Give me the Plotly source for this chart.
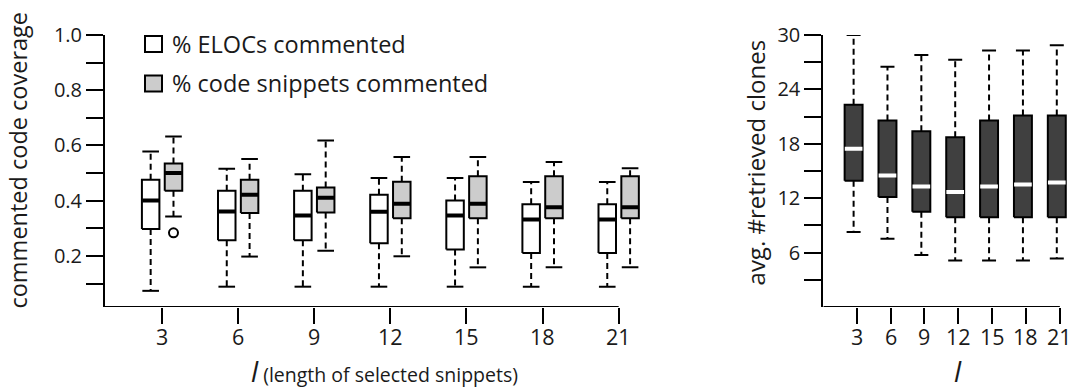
import plotly.graph_objects as go

# ---------------- data ----------------
categories = ['3', '6', '9', '12', '15', '18', '21']

# % ELOCs commented (white boxes)
eloc_lower = [0.074, 0.089, 0.089, 0.089, 0.089, 0.089, 0.089]
eloc_q1 = [0.298, 0.257, 0.257, 0.246, 0.224, 0.211, 0.211]
eloc_median = [0.401, 0.361, 0.347, 0.360, 0.347, 0.332, 0.332]
eloc_q3 = [0.476, 0.436, 0.436, 0.422, 0.401, 0.387, 0.387]
eloc_upper = [0.578, 0.516, 0.496, 0.482, 0.482, 0.468, 0.468]

# % code snippets commented (grey boxes)
snip_lower = [0.343, 0.198, 0.219, 0.199, 0.159, 0.159, 0.159]
snip_q1 = [0.436, 0.356, 0.357, 0.337, 0.337, 0.337, 0.337]
snip_median = [0.500, 0.422, 0.411, 0.389, 0.389, 0.376, 0.376]
snip_q3 = [0.535, 0.476, 0.448, 0.469, 0.489, 0.489, 0.489]
snip_upper = [0.632, 0.551, 0.618, 0.558, 0.558, 0.540, 0.518]
snip_outliers = [[0.284], [], [], [], [], [], []]

# avg. #retrieved clones (dark boxes)
clone_lower = [8.27, 7.53, 5.73, 5.13, 5.13, 5.13, 5.34]
clone_q1 = [13.93, 12.13, 10.5, 9.9, 9.9, 9.9, 9.9]
clone_median = [17.46, 14.49, 13.29, 12.69, 13.29, 13.5, 13.72]
clone_q3 = [22.3, 20.57, 19.37, 18.73, 20.57, 21.13, 21.13]
clone_upper = [30.0, 26.5, 27.8, 27.25, 28.27, 28.27, 28.87]

left_ticks = [0.2, 0.4, 0.6, 0.8, 1.0]
left_minor = [0.1, 0.3, 0.5, 0.7, 0.9]
right_ticks = [6, 12, 18, 24, 30]
right_minor = [3, 9, 15, 21, 27]

FONT = "Open Sans"
TXT = "#1a1a1a"
W, H = 1074, 389

fig = go.Figure()


def add_box(xc, w, capw, lo, q1, med, q3, up, fill, medcolor, xa, ya):
    # dashed whiskers
    fig.add_trace(go.Scatter(x=[xc, xc, None, xc, xc], y=[q3, up, None, q1, lo],
                             mode='lines', line=dict(color='black', width=2, dash='6px,4px'),
                             xaxis=xa, yaxis=ya, hoverinfo='skip'))
    # caps
    fig.add_trace(go.Scatter(x=[xc - capw / 2, xc + capw / 2, None, xc - capw / 2, xc + capw / 2],
                             y=[up, up, None, lo, lo], mode='lines',
                             line=dict(color='black', width=2), xaxis=xa, yaxis=ya, hoverinfo='skip'))
    # box
    fig.add_trace(go.Scatter(x=[xc - w / 2, xc + w / 2, xc + w / 2, xc - w / 2, xc - w / 2],
                             y=[q1, q1, q3, q3, q1], mode='lines', fill='toself', fillcolor=fill,
                             line=dict(color='black', width=2), xaxis=xa, yaxis=ya, hoverinfo='skip'))
    # median
    fig.add_trace(go.Scatter(x=[xc - w / 2 + 0.004, xc + w / 2 - 0.004], y=[med, med], mode='lines',
                             line=dict(color=medcolor, width=4), xaxis=xa, yaxis=ya, hoverinfo='skip'))


off = 0.15
bw = 0.23
for i in range(len(categories)):
    add_box(i - off, bw, bw * 0.95, eloc_lower[i], eloc_q1[i], eloc_median[i], eloc_q3[i],
            eloc_upper[i], 'white', 'black', 'x', 'y')
    add_box(i + off, bw, bw * 0.95, snip_lower[i], snip_q1[i], snip_median[i], snip_q3[i],
            snip_upper[i], '#cccccc', 'black', 'x', 'y')
    if snip_outliers[i]:
        fig.add_trace(go.Scatter(x=[i + off] * len(snip_outliers[i]), y=snip_outliers[i], mode='markers',
                                 marker=dict(symbol='circle-open', size=9, color='black',
                                             line=dict(width=2, color='black')),
                                 xaxis='x', yaxis='y', hoverinfo='skip'))

rbw = 0.53
for i in range(len(categories)):
    add_box(i - 0.09, rbw, rbw * 0.78, clone_lower[i], clone_q1[i], clone_median[i], clone_q3[i],
            clone_upper[i], '#404040', 'white', 'x2', 'y2')

ydom = [(H - 304) / H, (H - 21.7) / H]
L_YMIN = 0.0153

common_x = dict(ticks='outside', ticklen=16, tickwidth=2, tickcolor='black', showline=False,
                showgrid=False, zeroline=False, showticklabels=False)
common_y = dict(ticks='outside', ticklen=17, tickwidth=2, tickcolor='black', showline=True,
                linewidth=2, linecolor='black', showgrid=False, zeroline=False,
                tickfont=dict(family=FONT, size=20, color=TXT))

fig.update_layout(
    width=W, height=H, margin=dict(l=0, r=0, t=0, b=0),
    paper_bgcolor='white', plot_bgcolor='white', showlegend=False,
    xaxis=dict(domain=[105 / W, 641.5 / W], range=[-0.75, 6.3], tickmode='array',
               tickvals=list(range(len(categories))), **common_x),
    yaxis=dict(domain=ydom, range=[L_YMIN, 1.0], tickmode='array', tickvals=left_ticks,
               ticktext=['%.1f' % v for v in left_ticks],
               minor=dict(tickmode='array', tickvals=left_minor, ticks='outside', ticklen=17,
                          tickwidth=2, tickcolor='black'), **common_y),
    xaxis2=dict(domain=[823.3 / W, 1070 / W], range=[-0.985, 6.3], tickmode='array', anchor='y2',
                tickvals=list(range(len(categories))), **common_x),
    yaxis2=dict(domain=ydom, range=[0, 30], tickmode='array', tickvals=right_ticks, anchor='x2',
                ticktext=[str(v) for v in right_ticks],
                minor=dict(tickmode='array', tickvals=right_minor, ticks='outside', ticklen=17,
                           tickwidth=2, tickcolor='black'), **common_y),
)

# x tick labels
for xa in ['x', 'x2']:
    for i, c in enumerate(categories):
        fig.add_annotation(xref=xa, yref='paper', x=i, y=(H - 335) / H, text=c, showarrow=False,
                           xanchor='center', yanchor='middle',
                           font=dict(family=FONT, size=21.5, color=TXT))

# bottom axis lines ending at last tick
fig.add_shape(type='line', xref='x', yref='y', x0=-0.75, x1=len(categories) - 1, y0=L_YMIN, y1=L_YMIN,
              line=dict(color='black', width=2))
fig.add_shape(type='line', xref='x2', yref='y2', x0=-0.985, x1=len(categories) - 1, y0=0, y1=0,
              line=dict(color='black', width=2))

# legend (drawn)
legend_items = ['% ELOCs commented', '% code snippets commented']
legend_fill = ['white', '#cccccc']
legend_y = [31, 72]
for name, col, yc in zip(legend_items, legend_fill, legend_y):
    fig.add_shape(type='rect', xref='paper', yref='paper', x0=145 / W, x1=162 / W,
                  y0=(H - yc - 8.3) / H, y1=(H - yc + 8.3) / H, fillcolor=col,
                  line=dict(color='black', width=2))
    fig.add_annotation(xref='paper', yref='paper', x=170 / W, y=(H - yc) / H, text=name,
                       showarrow=False, xanchor='left', yanchor='middle',
                       font=dict(family=FONT, size=23.5, color=TXT))

# axis titles
fig.add_annotation(xref='paper', yref='paper', x=18 / W, y=(H - 152) / H, text='commented code coverage',
                   textangle=-90, showarrow=False, xanchor='center', yanchor='middle',
                   font=dict(family=FONT, size=23.5, color=TXT))
fig.add_annotation(xref='paper', yref='paper', x=755 / W, y=(H - 154) / H, text='avg. #retrieved clones',
                   textangle=-90, showarrow=False, xanchor='center', yanchor='middle',
                   font=dict(family=FONT, size=24, color=TXT))
fig.add_annotation(xref='paper', yref='paper', x=384 / W, y=(H - 370) / H,
                   text="<i><span style='font-size:28px'>l</span></i> (length of selected snippets)",
                   showarrow=False, xanchor='center', yanchor='middle',
                   font=dict(family=FONT, size=19.5, color=TXT))
fig.add_annotation(xref='paper', yref='paper', x=958 / W, y=(H - 370) / H,
                   text="<i>l</i>", showarrow=False, xanchor='center', yanchor='middle',
                   font=dict(family=FONT, size=28, color=TXT))

fig.write_html("out.html")
